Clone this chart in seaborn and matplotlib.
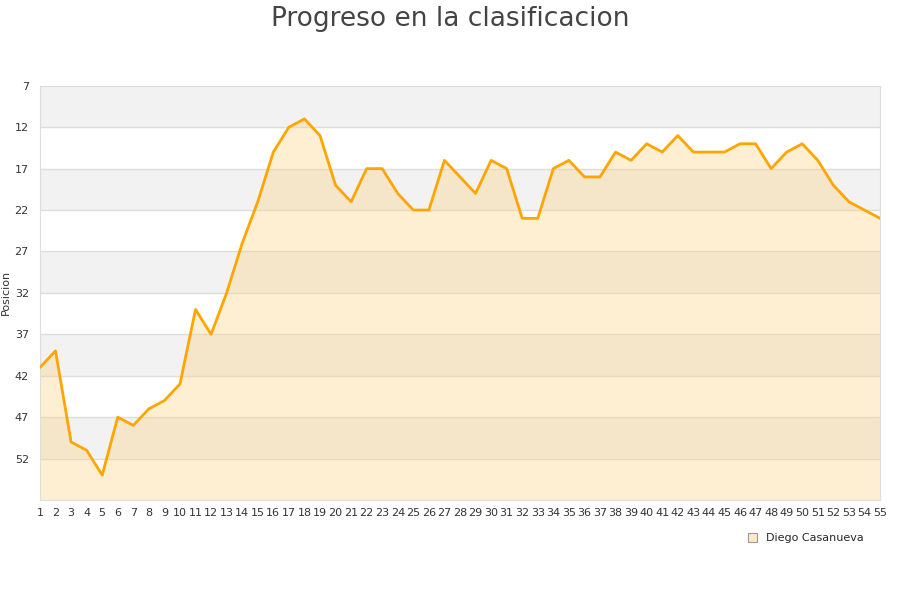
import matplotlib
matplotlib.use("Agg")
import matplotlib.pyplot as plt
import seaborn as sns
import pandas as pd
from matplotlib.patches import Patch

# Data
jornadas = list(range(1, 56))
posicion = [41, 39, 50, 51, 54, 47, 48, 46, 45, 43,
            34, 37, 32, 26, 21, 15, 12, 11, 13, 19,
            21, 17, 17, 20, 22, 22, 16, 18, 20, 16,
            17, 23, 23, 17, 16, 18, 18, 15, 16, 14,
            15, 13, 15, 15, 15, 14, 14, 17, 15, 14,
            16, 19, 21, 22, 23]
y_ticks = [7, 12, 17, 22, 27, 32, 37, 42, 47, 52]
serie = "Diego Casanueva"

df = pd.DataFrame({"Jornada": jornadas, "Posicion": posicion})

sns.set_style("white")
fig = plt.figure(figsize=(9, 6), dpi=100)
ax = fig.add_axes([0.0444, 0.1667, 0.9334, 0.6903])

y_min, y_max = 7, 57

# alternating bands
for i, t in enumerate(y_ticks):
    if i % 2 == 0:
        ax.axhspan(t, t + 5, color="#f2f2f2", zorder=0, lw=0)
for t in y_ticks[1:]:
    ax.axhline(t, color="#dddddd", lw=1, zorder=1)

ax.fill_between(df["Jornada"], df["Posicion"], y_max, color="#ffd27f",
                alpha=0.35, lw=0, zorder=2)
sns.lineplot(data=df, x="Jornada", y="Posicion", ax=ax, color="#ffa500",
             lw=2, zorder=3)

ax.set_xlim(1, 55)
ax.set_ylim(y_max, y_min)
ax.set_yticks(y_ticks)
ax.set_xticks(jornadas)
ax.set_xticklabels([str(j) for j in jornadas], fontsize=8, color="#333333")
ax.tick_params(axis="y", labelsize=8, colors="#333333", length=0, pad=8)
ax.tick_params(axis="x", length=0, pad=6)
ax.set_xlabel("")
ax.set_ylabel("Posicion", fontsize=8, color="#333333")
ax.yaxis.set_label_coords(-0.035, 0.5)
for s in ax.spines.values():
    s.set_color("#dddddd")

fig.suptitle("Progreso en la clasificacion", fontsize=19, color="#444444",
             y=0.99)

handle = Patch(facecolor="#ffe9c4", edgecolor="#999999", lw=0.8)
fig.legend([handle], [serie], loc="center", bbox_to_anchor=(0.895, 0.103),
           frameon=False, fontsize=8, handlelength=0.8, handleheight=0.8,
           handletextpad=0.8)

fig.savefig("out.png", dpi=100)
